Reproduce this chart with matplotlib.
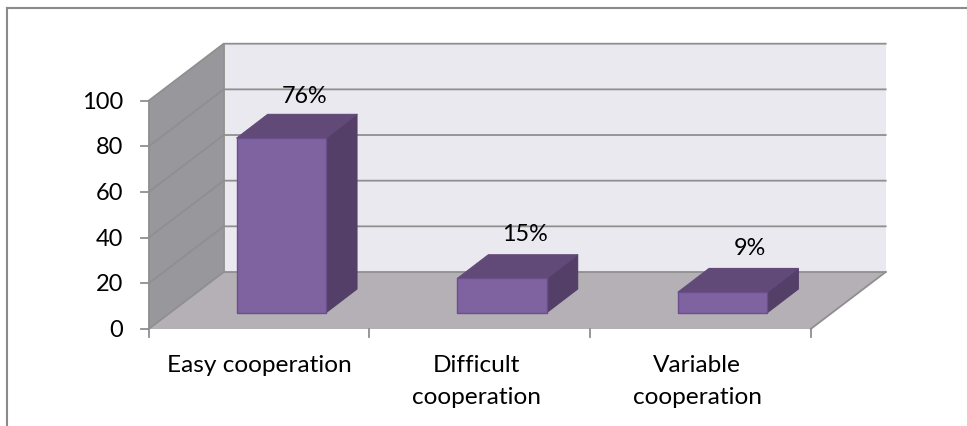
import matplotlib
matplotlib.use("Agg")
import matplotlib.pyplot as plt
from matplotlib.patches import Polygon
from matplotlib.lines import Line2D

categories = ["Easy cooperation", "Difficult\ncooperation", "Variable\ncooperation"]
values = [76.5, 15, 9]
value_labels = ["76%", "15%", "9%"]
y_ticks = [0, 20, 40, 60, 80, 100]

W, H = 967, 426
plt.rcParams['font.family'] = ['Lato', 'DejaVu Sans']
FS_CAT, FS_TICK, FS_VAL = 17.6, 17.0, 16.8
fig = plt.figure(figsize=(W / 100, H / 100), dpi=100)
fig.patch.set_facecolor('white')

L, R, T, B = 148.7, 810.7, 100.7, 329.0
ax = fig.add_axes([L / W, 1 - B / H, (R - L) / W, (B - T) / H])
ax.set_xlim(0, len(categories))
ax.set_ylim(0, 100)
ax.axis('off')

ux = (R - L) / 3
uy = (B - T) / 100
DX, DY = 75 / ux, 57 / uy          # full floor depth
BDX, BDY = 31 / ux, 23.7 / uy      # bar depth
bar_x0 = (236.7 - L) / ux
bar_w = (326 - 236.7) / ux
bar_y0 = (B - 312.7) / uy

def poly(pts, fc, ec=None, lw=1.0, z=1):
    ax.add_patch(Polygon(pts, closed=True, facecolor=fc, edgecolor=ec or fc, lw=lw, zorder=z, clip_on=False, joinstyle='round'))

grid = '#8f8f8f'
n = len(categories)
# back wall, side wall, floor
poly([(DX, DY), (n + DX, DY), (n + DX, 100 + DY), (DX, 100 + DY)], '#ebe9f0', 'none', 0, 1)
poly([(0, 0), (DX, DY), (DX, 100 + DY), (0, 100)], '#98979b', 'none', 0, 1)
poly([(0, 0), (n, 0), (n + DX, DY), (DX, DY)], '#b4b0b5', 'none', 0, 1)

for t in y_ticks:
    ax.plot([0, DX, n + DX], [t, t + DY, t + DY], color=grid, lw=1.3, zorder=2, clip_on=False, solid_joinstyle='miter')
    ax.plot([-8 / ux, 0], [t, t], color=grid, lw=1.3, zorder=2, clip_on=False)
    ax.annotate(str(t), (-25.5 / ux, t - 1.5 / uy), ha='right', va='center', fontsize=FS_TICK, color='black', annotation_clip=False)
ax.plot([0, 0], [0, 100], color=grid, lw=1.3, zorder=2, clip_on=False)
ax.plot([DX, DX], [DY, 100 + DY], color=grid, lw=1.3, zorder=2, clip_on=False)
ax.plot([n, n + DX], [0, DY], color=grid, lw=1.3, zorder=2, clip_on=False)
for i in range(n + 1):
    ax.plot([i, i], [0, -8 / uy], color=grid, lw=1.3, zorder=2, clip_on=False)

value_dx = [23, 23, 27]
value_dy = [41.5, 44, 44]
cat_dx = [0, -3, -3]
for i, (v, lab, cat) in enumerate(zip(values, value_labels, categories)):
    x0 = i + bar_x0
    x1 = x0 + bar_w
    y0, y1 = bar_y0, bar_y0 + v
    poly([(x1, y0), (x1 + BDX, y0 + BDY), (x1 + BDX, y1 + BDY), (x1, y1)], '#533f68', '#533f68', 0.8, 3)
    poly([(x0, y1), (x1, y1), (x1 + BDX, y1 + BDY), (x0 + BDX, y1 + BDY)], '#614a78', '#614a78', 0.8, 3)
    poly([(x0, y0), (x1, y0), (x1, y1), (x0, y1)], '#7f62a0', '#6b4f8c', 1.0, 4)
    ax.annotate(lab, (x0 + bar_w / 2 + value_dx[i] / ux, y1 + value_dy[i] / uy), ha='center', va='center', fontsize=FS_VAL, color='black', zorder=6, annotation_clip=False)
    ax.annotate(cat, (i + 0.5 + cat_dx[i] / ux, -25.5 / uy), ha='center', va='top', fontsize=FS_CAT, color='black', linespacing=1.65, annotation_clip=False)

# outer frame
frame = dict(color='#8a8a8a', lw=1.5, transform=fig.transFigure)
fig.add_artist(Line2D([7 / W, 7 / W], [0, 1 - 7.5 / H], **frame))
fig.add_artist(Line2D([7 / W, 1], [1 - 7.5 / H, 1 - 7.5 / H], **frame))

fig.savefig('out.png', dpi=100)
